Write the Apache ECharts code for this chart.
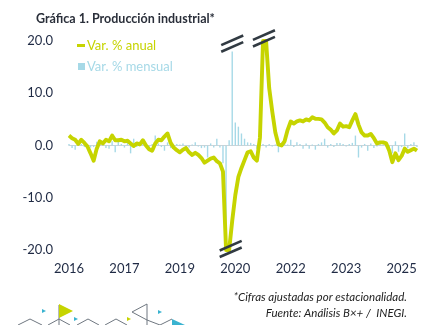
<!DOCTYPE html>
<html><head><meta charset="utf-8">
<script src="https://cdn.jsdelivr.net/npm/echarts@6/dist/echarts.min.js"></script>
<style>html,body{margin:0;padding:0;background:#fff}#c{width:433px;height:325px}</style>
</head><body><div id="c"></div>
<script>
// ---- data ----
const startYear = 2016;
const monthCount = 114; // Jan 2016 - Jun 2025
const categories = [];
for (let k = 0; k < monthCount; k++) {
  const y = startYear + Math.floor(k / 12), m = (k % 12) + 1;
  categories.push(y + '-' + (m < 10 ? '0' + m : m));
}
const tickIndices = [0, 18, 36, 54, 72, 90, 108];
const tickLabels = ['2016', '2017', '2019', '2020', '2022', '2023', '2025'];

const annual = [
  1.9, 1.4, 1.1, 0.3, 1.1, 0.5, -0.2, -1.5, -2.9, -0.6, 0.8, 0.4,
  1.1, 0.8, 1.9, 1.0, 1.0, 1.1, 0.8, 0.9, 0.4, -0.1, 0.4, 0.2,
  1.0, 0.0, -0.7, -1.0, 0.4, 1.1, 1.0, 1.7, 2.3, 0.5, -0.4, -0.9,
  -1.3, -0.8, -0.5, -1.3, -1.8, -1.4, -1.8, -2.4, -3.3, -2.9, -2.5, -2.3,
  -3.0, -3.4, -5.0, -20, -20, -14.4, -9.5, -6.0, -4.3, -2.8, -1.3, -1.1,
  -2.3, -2.9, 1.5, 20, 20, 11, 6.5, 2.5, 0.2, 0.0, 0.8, 3.0,
  4.6, 4.2, 4.6, 4.8, 4.6, 5.0, 4.8, 5.4, 5.1, 5.1, 5.0, 4.4,
  3.5, 3.0, 2.3, 2.9, 4.2, 3.6, 3.7, 3.5, 4.8, 6.0, 4.0, 2.5,
  1.9, 1.9, 2.2, 1.4, 0.4, 0.6, 0.6, 0.4, -1.0, -3.2, -1.5, -2.8,
  -2.0, -0.6, -1.2, -0.9, -0.6, -1.0
];
const monthly = [
  0.3, -0.5, -0.8, 0.5, 0.3, -0.3, 0.2, -0.4, -0.3, 0.7, 0.5, 0.6,
  -0.5, -0.6, 0.8, -1.3, 0.9, 0.3, -0.4, 0.5, -1.5, 1.3, -0.3, 0.2,
  0.4, -0.3, -0.5, 0.3, 1.9, 0.4, -0.3, -1.0, 0.6, -0.5, -0.6, 0.3,
  0.2, 0.4, -0.3, -0.4, 0.2, 0.6, -0.2, -0.5, -0.4, -2.3, 0.4, -0.4,
  1.3, -0.4, -3.4, -20, 1.0, 18, 4.4, 3.6, 2.3, 1.3, 0.6, 0.5,
  0.3, -0.6, 0.5, 0.3, -0.4, 0.3, -0.2, 0.2, -1.3, 0.3, 1.3, 0.2,
  1.1, -0.3, 0.6, 0.3, -0.6, 0.4, -0.6, 0.2, -0.8, 0.3, 0.6, 1.3,
  -0.4, 0.3, -0.3, 0.5, 0.5, 0.3, -0.2, 0.3, 0.5, 1.9, -2.3, -0.4,
  0.3, -1.0, 0.4, -0.5, -0.2, 0.3, 0.2, -0.3, -0.8, -1.5, 0.8, -1.2,
  -0.3, 2.3, -0.5, 0.3, 0.6, -0.3
];
// break marks positions: [category index, value]
const breakMarks = [[53, 19.5], [63.3, 20.5], [52.5, -19.8]];

// ---- chart ----
const FONT = 'Lato';
const GREEN = '#c6d400';
const BLUE = '#a6d9e7';
const DARK = '#1f2a44';

const chart = echarts.init(document.getElementById('c'), null, { renderer: 'canvas' });
const option = {
  animation: false,
  backgroundColor: '#fff',
  textStyle: { fontFamily: FONT },
  title: {
    text: 'Gráfica 1. Producción industrial*',
    left: 31, top: 7,
    textStyle: { fontFamily: FONT, fontSize: 12.5, fontWeight: 'bold', color: '#2a2f3a' }
  },
  legend: [
    {
      data: [{ name: 'Var. % anual', icon: 'rect' }],
      left: 72, top: 34, itemWidth: 8, itemHeight: 3, itemGap: 0,
      textStyle: { fontFamily: FONT, fontSize: 13, color: GREEN, padding: [0, 0, 0, -3] },
      selectedMode: false
    },
    {
      data: [{ name: 'Var. % mensual', icon: 'rect' }],
      left: 73, top: 55, itemWidth: 7, itemHeight: 7, itemGap: 0,
      textStyle: { fontFamily: FONT, fontSize: 13, color: BLUE, padding: [0, 0, 0, -3] },
      selectedMode: false
    }
  ],
  grid: { left: 69, right: 16, top: 41, bottom: 75, containLabel: false },
  xAxis: {
    type: 'category',
    data: categories,
    boundaryGap: false,
    axisLine: { onZero: true, lineStyle: { color: '#cfd3d6', width: 1 } },
    axisTick: { show: false },
    axisLabel: {
      interval: (idx) => tickIndices.indexOf(idx) >= 0,
      formatter: (val, idx) => { const p = tickIndices.indexOf(idx); return p >= 0 ? tickLabels[p] : ''; },
      fontFamily: FONT, fontSize: 13, color: DARK, margin: 12
    },
    splitLine: { show: false }
  },
  yAxis: {
    type: 'value', min: -20, max: 20, interval: 10,
    axisLine: { show: false }, axisTick: { show: false },
    splitLine: { show: false },
    axisLabel: {
      formatter: (v) => v.toFixed(1),
      fontFamily: FONT, fontSize: 13, color: DARK, margin: 16
    }
  },
  series: [
    {
      name: 'Var. % mensual', type: 'bar', data: monthly,
      barWidth: 1.4, itemStyle: { color: BLUE }, z: 2
    },
    {
      name: 'Var. % anual', type: 'line', data: annual,
      showSymbol: false, symbol: 'none', clip: false,
      lineStyle: { color: GREEN, width: 3.9, join: 'round' },
      itemStyle: { color: GREEN }, z: 3
    }
  ]
};
chart.setOption(option);

// break marks via the chart's own scales
const markEls = [];
breakMarks.forEach(([i, v]) => {
  const i0 = Math.floor(i), f = i - i0;
  const a = chart.convertToPixel({ gridIndex: 0 }, [i0, v]);
  const b = chart.convertToPixel({ gridIndex: 0 }, [i0 + 1, v]);
  const cx = a[0] + (b[0] - a[0]) * f, cy = a[1];
  [-3.3, 3.3].forEach(dy => {
    markEls.push({
      type: 'line', z: 100,
      shape: { x1: cx - 11, y1: cy + 4.8 + dy, x2: cx + 11, y2: cy - 4.8 + dy },
      style: { stroke: '#313a42', lineWidth: 2.6 }
    });
  });
});

// decorative footer and notes
const deco = [
  { type: 'text', right: 26, top: 291, style: { text: '*Cifras ajustadas por estacionalidad.', font: 'italic 11.5px Lato', fill: '#222', textAlign: 'right' } },
  { type: 'text', right: 26, top: 307, style: { text: 'Fuente: Análisis B×+ /  INEGI.', font: 'italic 11.5px Lato', fill: '#222', textAlign: 'right' } },
  { type: 'polyline', shape: { points: [[18, 325], [30, 319], [42, 325]] }, style: { stroke: '#6f7780', lineWidth: 1, fill: null } },
  { type: 'polyline', shape: { points: [[48, 325], [59, 319], [70, 325]] }, style: { stroke: '#6f7780', lineWidth: 1, fill: null } },
  { type: 'polyline', shape: { points: [[77, 325], [88, 319], [99, 325]] }, style: { stroke: '#6f7780', lineWidth: 1, fill: null } },
  { type: 'polyline', shape: { points: [[105, 325], [116, 319], [127, 325]] }, style: { stroke: '#6f7780', lineWidth: 1, fill: null } },
  { type: 'line', shape: { x1: 59, y1: 305, x2: 59, y2: 325 }, style: { stroke: '#6f7780', lineWidth: 1 } },
  { type: 'polygon', shape: { points: [[59, 304], [73, 311], [59, 318]] }, style: { fill: '#c6d400' } },
  { type: 'polygon', shape: { points: [[42, 309], [46, 311], [42, 313]] }, style: { fill: '#3ab3d0' } },
  { type: 'polygon', shape: { points: [[74, 317], [78, 319], [74, 321]] }, style: { fill: '#3ab3d0' } },
  { type: 'polygon', shape: { points: [[127, 317], [131, 319], [127, 321]] }, style: { fill: '#c6d400' } },
  { type: 'polyline', shape: { points: [[147, 304], [132, 312], [147, 320]] }, style: { stroke: '#6f7780', lineWidth: 1, fill: null } },
  { type: 'line', shape: { x1: 147, y1: 304, x2: 147, y2: 325 }, style: { stroke: '#6f7780', lineWidth: 1 } },
  { type: 'polyline', shape: { points: [[147, 320], [160, 325]] }, style: { stroke: '#6f7780', lineWidth: 1, fill: null } },
  { type: 'polygon', shape: { points: [[158, 310], [162, 312], [158, 314]] }, style: { fill: '#3ab3d0' } },
  { type: 'polygon', shape: { points: [[172, 319], [185, 325], [172, 325]] }, style: { fill: '#3ab3d0' } },
  { type: 'polyline', shape: { points: [[160, 325], [172, 319]] }, style: { stroke: '#6f7780', lineWidth: 1, fill: null } }
];
chart.setOption({ graphic: markEls.concat(deco) });
</script>
</body></html>
